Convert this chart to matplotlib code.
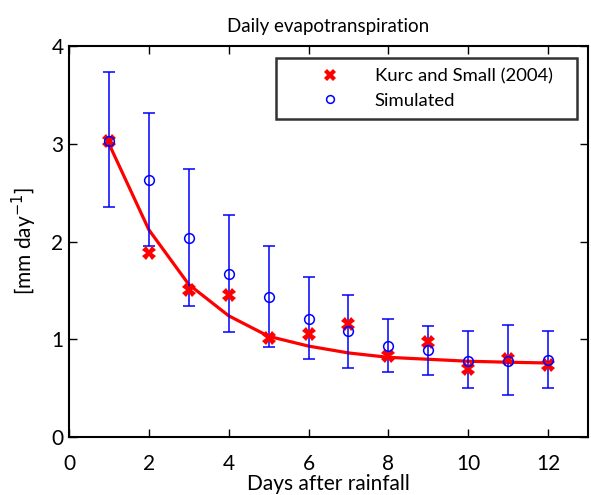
import numpy as np
import matplotlib
matplotlib.use('Agg')
import matplotlib.pyplot as plt

# values
days = [1, 2, 3, 4, 5, 6, 7, 8, 9, 10, 11, 12]
kurc_small = [3.03, 1.88, 1.50, 1.45, 1.01, 1.05, 1.16, 0.83, 0.97, 0.70, 0.80, 0.74]
simulated = [3.03, 2.63, 2.04, 1.67, 1.43, 1.21, 1.08, 0.93, 0.89, 0.78, 0.78, 0.79]
sim_low = [2.35, 1.95, 1.34, 1.07, 0.92, 0.80, 0.71, 0.66, 0.63, 0.50, 0.43, 0.50]
sim_high = [3.73, 3.31, 2.74, 2.27, 1.95, 1.64, 1.45, 1.21, 1.14, 1.08, 1.15, 1.08]
fit_line = [3.00, 2.12, 1.56, 1.24, 1.03, 0.93, 0.86, 0.815, 0.795, 0.775, 0.765, 0.757]

plt.rcParams['font.family'] = ['Lato', 'DejaVu Sans']

fig = plt.figure(figsize=(5.91, 4.95), dpi=100)
ax = fig.add_axes([0.1168, 0.1172, 0.8781, 0.7898])

sim = np.array(simulated)
yerr = [sim - np.array(sim_low), np.array(sim_high) - sim]

ax.plot(days, fit_line, '-', color='red', linewidth=2.3, zorder=2)
ax.errorbar(days, simulated, yerr=yerr, fmt='none', ecolor='blue',
            elinewidth=1.1, capsize=4, capthick=1.1, zorder=3)
ax.plot(days, kurc_small, 'X', color='red', markersize=10, markeredgewidth=0,
        label='Kurc and Small (2004)', zorder=4)
ax.plot(days, simulated, 'o', markerfacecolor='none', markeredgecolor='blue',
        markersize=7, markeredgewidth=1.1, label='Simulated', zorder=5)

ax.set_xlim(0, 13)
ax.set_ylim(0, 4)
ax.set_xticks([0, 2, 4, 6, 8, 10, 12])
ax.set_yticks([0, 1, 2, 3, 4])
ax.tick_params(direction='in', top=True, right=True, length=6, width=1,
               labelsize=15)
ax.tick_params(axis='x', pad=12)
ax.tick_params(axis='y', pad=4)
for s in ax.spines.values():
    s.set_linewidth(1.5)

ax.set_title('Daily evapotranspiration', fontsize=13.5, pad=10)
ax.set_xlabel('Days after rainfall', fontsize=15, labelpad=0.3)
ax.set_ylabel('[mm day$^{-1}$]', fontsize=15, labelpad=9)

leg = ax.legend(loc='upper left', bbox_to_anchor=(0.399, 0.969, 0.58, 0),
                mode='expand', borderaxespad=0, fontsize=13.3,
                frameon=True, fancybox=False, edgecolor='black',
                handletextpad=0.1, borderpad=0.55, handlelength=4.7,
                labelspacing=0.45, markerscale=0.8)
leg.get_frame().set_linewidth(1.8)

fig.savefig('out.png', dpi=100)
